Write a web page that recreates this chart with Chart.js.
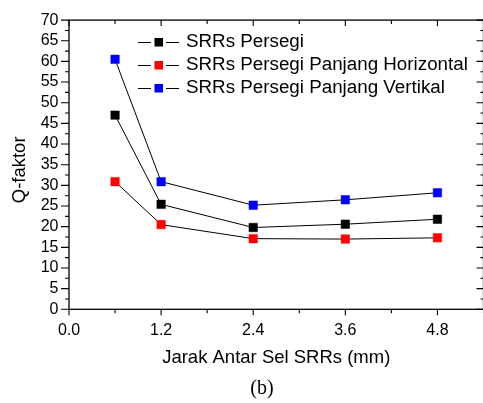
<!DOCTYPE html>
<html>
<head>
<meta charset="utf-8">
<script src="https://cdn.jsdelivr.net/npm/chart.js@4.4.1/dist/chart.umd.min.js"></script>
<style>
  html, body { margin: 0; padding: 0; background: #fff; overflow: hidden; }
  #wrap { position: relative; width: 490px; height: 403px; }
  #caption {
    position: absolute; left: 242px; top: 376px; width: 40px; text-align: center;
    font-family: "Liberation Serif", "Times New Roman", serif; font-size: 20px; color: #000;
  }
</style>
</head>
<body>
<div id="wrap">
  <canvas id="q-chart"></canvas>
  <div id="caption">(b)</div>
</div>
<script>
// spacing between SRR cells (mm)
const jarak = [0.6, 1.2, 2.4, 3.6, 4.8];

// Q-factor per configuration
const qPersegi = [47.0, 25.4, 19.8, 20.6, 21.8];
const qHorizontal = [30.9, 20.5, 17.1, 17.0, 17.3];
const qVertikal = [60.5, 30.9, 25.2, 26.5, 28.2];

const seriesNames = ['SRRs Persegi', 'SRRs Persegi Panjang Horizontal', 'SRRs Persegi Panjang Vertikal'];
const seriesColors = ['#000000', '#ff0000', '#0000ff'];
const seriesValues = [qPersegi, qHorizontal, qVertikal];

const FONT = '"Liberation Sans", Arial, sans-serif';

function toPoints(values) {
    return jarak.map((x, i) => ({ x: x, y: values[i] }));
}

// frame + Origin style tick marks on all four sides
const framePlugin = {
    id: 'frame',
    afterDraw(chart) {
        const ctx = chart.ctx;
        const a = chart.chartArea;
        const xs = chart.scales.x;
        const ys = chart.scales.y;
        ctx.save();
        ctx.strokeStyle = '#000';
        ctx.lineWidth = 1.3;
        ctx.strokeRect(a.left, a.top, a.right - a.left, a.bottom - a.top);
        ctx.lineWidth = 1.1;
        ctx.beginPath();
        // y ticks: every 2.5, major every 5
        for (let i = 0; i <= 28; i++) {
            const py = ys.getPixelForValue(i * 2.5);
            const major = i % 2 === 0;
            ctx.moveTo(a.left, py);
            ctx.lineTo(a.left - (major ? 8 : 4), py);
            ctx.moveTo(a.right, py);
            ctx.lineTo(a.right - (major ? 7 : 3), py);
        }
        // x ticks: every 0.6, major every 1.2
        for (let i = 0; i <= 9; i++) {
            const px = xs.getPixelForValue(i * 0.6);
            const major = i % 2 === 0;
            ctx.moveTo(px, a.bottom);
            ctx.lineTo(px, a.bottom + (major ? 6 : 4));
            ctx.moveTo(px, a.top);
            ctx.lineTo(px, a.top + (major ? 6 : 4));
        }
        ctx.stroke();
        ctx.restore();
    }
};

// legend drawn inside the plot: line - square - line, then name
const legendPlugin = {
    id: 'insideLegend',
    afterDraw(chart) {
        const ctx = chart.ctx;
        ctx.save();
        ctx.font = '18.8px ' + FONT;
        ctx.textBaseline = 'middle';
        ctx.textAlign = 'left';
        seriesNames.forEach((name, i) => {
            const y = 42 + i * 23;
            ctx.strokeStyle = '#000';
            ctx.lineWidth = 1;
            ctx.beginPath();
            ctx.moveTo(138, y + 0.5);
            ctx.lineTo(151, y + 0.5);
            ctx.moveTo(166, y + 0.5);
            ctx.lineTo(179, y + 0.5);
            ctx.stroke();
            ctx.fillStyle = seriesColors[i];
            ctx.fillRect(154.5, y - 4, 8.5, 8.5);
            ctx.fillStyle = '#000';
            ctx.fillText(name, 186, y);
        });
        ctx.restore();
    }
};

const datasets = seriesNames.map((name, i) => ({
    label: name,
    data: toPoints(seriesValues[i]),
    borderColor: '#000',
    borderWidth: 1,
    pointStyle: 'rect',
    pointRadius: 6,
    pointBackgroundColor: seriesColors[i],
    pointBorderColor: seriesColors[i],
    pointBorderWidth: 0.5,
    tension: 0
}));

new Chart(document.getElementById('q-chart'), {
    type: 'line',
    data: { datasets: datasets },
    options: {
        responsive: true,
        maintainAspectRatio: false,
        animation: false,
        layout: { padding: { left: 0, top: 19, right: 4.8, bottom: 0 } },
        plugins: {
            legend: { display: false },
            tooltip: { enabled: false }
        },
        scales: {
            x: {
                type: 'linear',
                min: 0,
                max: 5.4,
                afterFit(scale) { scale.height = 93.7; },
                grid: { display: false, drawTicks: false },
                border: { display: false },
                ticks: {
                    stepSize: 1.2,
                    includeBounds: false,
                    autoSkip: false,
                    maxRotation: 0,
                    padding: 12,
                    color: '#000',
                    font: { family: FONT, size: 16 },
                    callback: v => v.toFixed(1)
                },
                title: {
                    display: true,
                    text: 'Jarak Antar Sel SRRs (mm)',
                    color: '#000',
                    font: { family: FONT, size: 18.5 },
                    padding: { top: 0, bottom: 34 }
                }
            },
            y: {
                min: 0,
                max: 70,
                afterFit(scale) { scale.width = 69; },
                grid: { display: false, drawTicks: false },
                border: { display: false },
                ticks: {
                    stepSize: 5,
                    autoSkip: false,
                    padding: 10.5,
                    color: '#000',
                    font: { family: FONT, size: 16 }
                },
                title: {
                    display: true,
                    // trailing spaces nudge the rotated title a little lower, as in the figure
                    text: 'Q-faktor  ',
                    color: '#000',
                    font: { family: FONT, size: 18.5 },
                    padding: { top: 9, bottom: 0 }
                }
            }
        }
    },
    plugins: [framePlugin, legendPlugin]
});
</script>
</body>
</html>
